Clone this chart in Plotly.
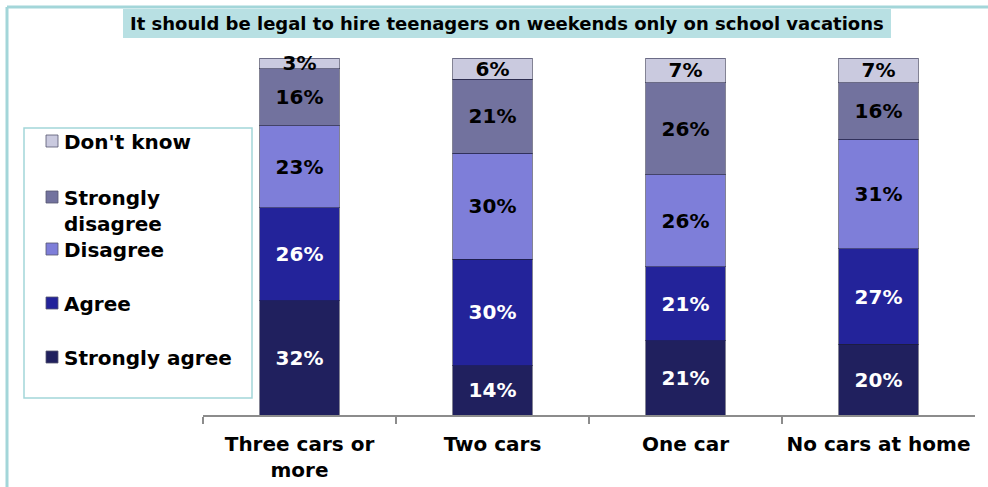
import plotly.graph_objects as go

# Survey answers by number of cars at home (percent of respondents)
categories = ["Three cars or<br>more", "Two cars", "One car", "No cars at home"]
strongly_agree = [32, 14, 21, 20]
agree = [26, 30, 21, 27]
disagree = [23, 30, 26, 31]
strongly_disagree = [16, 21, 26, 16]
dont_know = [3, 6, 7, 7]

series_names = ["Strongly agree", "Agree", "Disagree", "Strongly disagree", "Don't know"]
legend_labels = ["Strongly agree", "Agree", "Disagree", "Strongly<br>disagree", "Don't know"]
series_values = [strongly_agree, agree, disagree, strongly_disagree, dont_know]
series_colors = ["#20205e", "#23239a", "#7e7ed9", "#72729e", "#cacadf"]
label_colors = ["white", "white", "black", "black", "black"]

W, H = 988, 487
FONT = "DejaVu Sans, Arial, sans-serif"


def fx(px):
    return px / W


def fy(py):
    return 1 - py / H


fig = go.Figure()
for name, vals, col, tcol in zip(series_names, series_values, series_colors, label_colors):
    fig.add_trace(go.Bar(
        x=categories, y=vals, name=name,
        marker=dict(color=col, line=dict(color="rgba(30,30,60,0.55)", width=1)),
        text=[f"{v}%" for v in vals],
        textposition="inside", insidetextanchor="middle",
        textangle=0, constraintext="none",
        textfont=dict(family=FONT, size=20, color=tcol, weight="bold"),
        cliponaxis=False,
        showlegend=False,
    ))

# plot area placed directly in figure fractions
x0p, x1p, ytop, ybot = 203, 975, 58, 415
fig.update_layout(
    width=W, height=H,
    margin=dict(l=0, r=0, t=0, b=0),
    paper_bgcolor="white", plot_bgcolor="white",
    barmode="stack", barnorm="percent", bargap=0.59,
    font=dict(family=FONT, color="black"),
    xaxis=dict(
        domain=[fx(x0p), fx(x1p)],
        showline=True, linecolor="#8c8c8c", linewidth=1.5,
        ticks="outside", tickson="boundaries", ticklen=7, tickcolor="#8c8c8c", tickwidth=1.5,
        tickfont=dict(family=FONT, size=20, color="black", weight="bold"),
        ticklabelstandoff=10,
        showgrid=False, automargin=False,
    ),
    yaxis=dict(
        domain=[fy(ybot), fy(ytop)], range=[0, 100],
        visible=False, showgrid=False, automargin=False,
    ),
)

# outer frame (top and left edges visible)
fig.add_shape(type="line", xref="paper", yref="paper",
              x0=fx(7), y0=fy(7), x1=fx(990), y1=fy(7),
              line=dict(color="#a3d6d9", width=3))
fig.add_shape(type="line", xref="paper", yref="paper",
              x0=fx(7), y0=fy(7), x1=fx(7), y1=fy(490),
              line=dict(color="#a3d6d9", width=3))

# title banner
fig.add_shape(type="rect", xref="paper", yref="paper",
              x0=fx(123), y0=fy(38), x1=fx(891), y1=fy(9),
              fillcolor="#b8e0e3", line=dict(width=0), layer="below")
fig.add_annotation(xref="paper", yref="paper", x=fx(507), y=fy(24),
                   text="<b>It should be legal to hire teenagers on weekends only on school vacations</b>",
                   showarrow=False, font=dict(family=FONT, size=18, color="black"),
                   xanchor="center", yanchor="middle")

# legend box with entries
fig.add_shape(type="rect", xref="paper", yref="paper",
              x0=fx(24), y0=fy(398), x1=fx(252), y1=fy(128),
              fillcolor="white", line=dict(color="#a3d6d9", width=1.5))
legend_rows = [357, 303, 249, 197, 141]
for lab, col, yy in zip(legend_labels, series_colors, legend_rows):
    fig.add_shape(type="rect", xref="paper", yref="paper",
                  x0=fx(46), y0=fy(yy + 6), x1=fx(58), y1=fy(yy - 6),
                  fillcolor=col, line=dict(color="#555570", width=0.8))
    fig.add_annotation(xref="paper", yref="paper", x=fx(62), y=fy(yy - 13),
                       text=f"<b>{lab}</b>", showarrow=False, align="left",
                       font=dict(family=FONT, size=20, color="black"),
                       xanchor="left", yanchor="top")

fig.write_html("out.html")
